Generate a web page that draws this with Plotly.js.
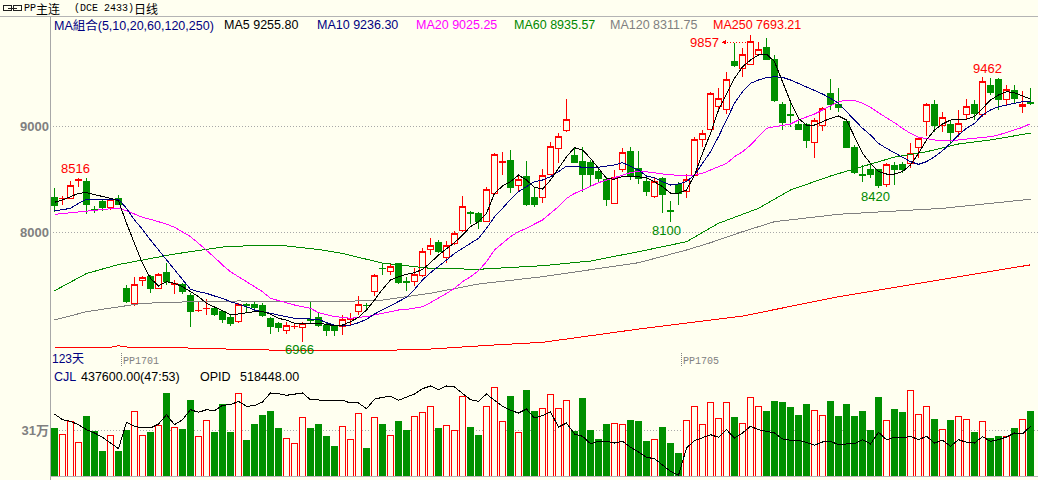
<!DOCTYPE html>
<html><head><meta charset="utf-8">
<script src="https://cdn.plot.ly/plotly-3.0.1.min.js"></script>
<style>html,body{margin:0;padding:0;background:#fffff0;}#chart{width:1038px;height:480px;}
#chart svg path{shape-rendering:crispEdges;}</style>
</head><body><div id="chart"></div>
<script>
// ---------------- DATA ----------------
const openP = [8330,8318,8320,8485,8478,8215,8286,8232,8320,7471,
7330,7544,7581,7471,7625,7505,7506,7408,7258,7278,
7283,7251,7198,7157,7318,7323,7305,7188,7141,7072,
7108,7103,7175,7198,7125,7110,7116,7180,7251,7314,
7440,7662,7628,7701,7535,7534,7597,7839,7905,7760,
7896,8015,8183,8179,8106,8367,8662,8673,8443,8525,
8327,8330,8547,8792,8956,8729,8666,8657,8572,8500,
8273,8594,8760,8603,8478,8342,8509,8203,8452,8383,
8540,8877,8971,9191,9154,9616,9547,9585,9679,9742,
9632,9210,9108,9018,9018,8845,9003,9305,9201,9044,
8798,8543,8588,8588,8455,8628,8635,8650,8798,9044,
9201,9003,9021,8949,9107,9207,9107,9389,9443,9254,
9342,9191,9220];
const highP = [8415,8342,8484,8516,8510,8248,8305,8324,8352,7503,
7581,7588,7597,7613,7707,7550,7525,7430,7355,7368,
7305,7267,7229,7336,7330,7355,7330,7204,7157,7157,
7147,7157,7345,7251,7147,7125,7220,7235,7399,7336,
7607,7707,7707,7707,7581,7666,7849,7943,7927,7918,
8015,8342,8201,8194,8430,8745,8760,8776,8540,8673,
8430,8594,8855,8934,9258,8808,8808,8682,8613,8518,
8588,8792,8808,8770,8525,8525,8525,8295,8478,8547,
8902,8965,9327,9358,9515,9789,9735,9857,9798,9830,
9673,9232,9232,9059,9034,9075,9179,9443,9358,9066,
8823,8635,8650,8594,8650,8666,8666,8845,8902,9217,
9248,9138,9059,9154,9257,9248,9462,9455,9452,9389,
9389,9336,9364];
const lowP = [8195,8257,8311,8430,8173,8185,8201,8210,8257,7330,
7308,7496,7424,7462,7503,7418,7418,7103,7252,7220,
7213,7147,7119,7147,7251,7251,7204,7037,7062,7044,
7084,6966,7145,7110,7025,7025,7031,7125,7220,7267,
7399,7597,7597,7512,7449,7493,7581,7786,7801,7713,
7880,8000,8078,8028,8100,8352,8540,8367,8383,8248,
8242,8273,8540,8657,8949,8650,8383,8437,8462,8248,
8267,8572,8493,8456,8342,8327,8185,8100,8257,8320,
8531,8808,8965,9160,9113,9562,9462,9578,9663,9625,
9232,8965,8996,8965,8798,8698,8955,9154,9138,8792,
8550,8477,8509,8420,8430,8446,8556,8603,8698,8908,
8949,8949,8839,8902,9059,9059,9091,9295,9154,9191,
9223,9128,9201];
const closeP = [8257,8322,8446,8495,8264,8205,8232,8311,8267,7345,
7512,7572,7468,7603,7537,7515,7437,7251,7262,7283,
7226,7179,7138,7317,7313,7289,7213,7110,7103,7125,
7110,7141,7165,7125,7078,7072,7179,7185,7323,7310,
7588,7658,7676,7528,7530,7603,7817,7874,7817,7874,
7990,8248,8177,8106,8408,8735,8667,8424,8500,8267,
8267,8534,8814,8908,9066,8657,8550,8550,8503,8305,
8518,8751,8525,8503,8389,8484,8352,8198,8367,8500,
8877,8933,9311,9264,9443,9572,9679,9798,9720,9632,
9242,9034,9100,8974,8864,9059,9169,9201,9179,8798,
8562,8540,8550,8437,8644,8594,8588,8745,8886,9201,
9012,9084,8940,9028,9191,9122,9421,9317,9254,9349,
9264,9210,9215];
// volume (CJL), in 万
const volume = [32.3,28.1,36.8,22.7,39.8,30.3,16.8,27.4,16.8,30.8,
43.6,27.4,29.6,34.1,55.3,32.8,31.5,51.2,26.8,37.5,
29.6,48.1,29.0,55.3,23.6,34.4,41.1,43.8,31.7,25.4,
22.0,39.5,32.3,34.4,26.3,20.2,33.5,24.7,41.8,18.2,
39.1,35.0,27.0,36.6,30.5,40.4,43.1,47.0,31.7,34.2,
30.8,53.9,33.0,27.0,47.0,59.8,36.4,53.9,29.0,57.3,
43.3,45.2,54.6,45.8,51.0,29.9,51.9,31.0,24.9,34.4,
35.7,34.4,37.3,36.6,23.1,24.3,33.0,22.2,15.5,37.1,
47.0,35.0,49.2,38.9,49.2,39.1,35.5,53.0,47.0,43.8,
50.5,49.2,46.5,41.1,48.5,44.3,40.9,49.9,40.4,48.5,
40.4,43.8,31.0,52.6,37.5,44.5,43.1,57.8,41.6,47.0,
38.4,31.5,37.1,40.2,38.2,29.0,36.4,25.6,26.3,26.3,
31.7,38.4,43.76];
// open interest (OPID), in 万
const opid = [56.15,54.15,53.59,52.40,50.65,49.50,47.99,45.99,44.00,53.24,
51.84,51.25,51.25,52.65,55.90,52.40,54.15,57.65,56.74,57.65,
57.30,59.19,59.40,60.59,58.84,59.05,60.35,63.50,63.25,62.69,
63.15,63.50,61.15,60.94,60.94,60.94,60.94,60.00,60.00,58.00,
61.33,61.99,62.34,60.94,62.10,63.15,65.00,65.95,64.65,65.95,
65.60,63.50,61.15,60.59,63.15,60.94,58.84,57.44,56.50,57.90,
54.75,55.55,56.85,51.60,53.00,49.15,48.34,45.75,46.59,46.59,
45.99,46.59,44.49,42.85,40.99,40.50,38.19,36.09,34.69,44.25,
46.80,47.99,48.90,47.99,50.65,47.75,49.50,51.84,50.65,50.09,
49.50,47.40,46.94,46.94,46.24,45.19,46.35,46.59,45.40,45.65,
45.65,47.15,45.65,49.74,47.15,47.99,47.75,48.34,47.15,48.34,
45.99,46.94,44.84,47.15,46.24,45.99,48.20,46.59,47.15,48.10,
49.50,49.15,51.84];
const ma5 = [8283,8305,8336,8368,8374,8358,8336,8320,8298,8085,
7896,7707,7566,7493,7534,7518,7487,7440,7393,7330,
7298,7261,7220,7229,7242,7251,7251,7229,7188,7172,
7141,7135,7141,7141,7132,7119,7125,7157,7198,7267,
7361,7462,7550,7581,7603,7619,7650,7713,7786,7848,
7902,7974,8053,8100,8179,8367,8437,8478,8540,8493,
8424,8408,8493,8603,8713,8798,8776,8698,8603,8509,
8500,8525,8531,8525,8515,8478,8430,8370,8370,8399,
8540,8745,8933,9154,9311,9452,9562,9625,9673,9682,
9610,9421,9232,9075,9012,9012,9044,9075,9097,9059,
8902,8745,8650,8572,8550,8550,8572,8635,8745,8871,
8965,9021,9059,9066,9066,9091,9169,9248,9295,9327,
9317,9286,9256];
const ma10 = [8201,8210,8226,8273,8311,8314,8317,8314,8311,8226,
8116,8028,7927,7833,7739,7644,7550,7462,7440,7424,
7399,7377,7345,7323,7298,7267,7251,7235,7220,7204,
7188,7185,7185,7179,7147,7125,7116,7125,7147,7179,
7229,7267,7305,7345,7386,7462,7550,7619,7676,7738,
7801,7848,7896,7943,8037,8147,8226,8311,8383,8430,
8478,8493,8525,8572,8625,8625,8613,8613,8613,8625,
8635,8657,8625,8588,8531,8515,8478,8446,8456,8478,
8540,8650,8760,8902,9059,9217,9327,9405,9437,9459,
9468,9462,9437,9405,9374,9342,9305,9264,9217,9138,
9059,8981,8918,8839,8792,8751,8713,8666,8641,8666,
8713,8770,8839,8918,8981,9028,9106,9154,9185,9201,
9217,9232,9236];
const ma20 = [8169,8177,8185,8195,8204,8210,8217,8222,8226,8204,
8173,8141,8122,8100,8078,8047,8006,7959,7896,7833,
7764,7691,7628,7581,7534,7487,7440,7377,7355,7336,
7314,7298,7283,7242,7220,7204,7198,7188,7198,7204,
7220,7235,7251,7267,7273,7282,7298,7336,7377,7424,
7471,7534,7581,7638,7723,7833,7896,7959,8006,8037,
8078,8116,8179,8242,8320,8367,8399,8437,8468,8493,
8518,8540,8562,8578,8572,8562,8550,8540,8537,8540,
8540,8556,8588,8619,8650,8713,8760,8823,8902,8981,
8996,9012,9021,9059,9084,9116,9154,9191,9232,9248,
9242,9217,9179,9128,9084,9034,8981,8933,8896,8880,
8871,8864,8864,8871,8880,8886,8893,8902,8918,8940,
8965,8990,9025];
// long MAs read at sampled candle indices
const ma60Idx = [0,4,8,11,15,21,26,29,33,36,41,47,53,61,67,73,79,83,88,92,97,101,105,109,113,117,122];
const ma60 = [7449,7611,7696,7739,7795,7861,7880,7871,7838,7800,7710,7660,7651,7685,7729,7817,7911,8085,8226,8399,8531,8621,8710,8760,8833,8871,8936];
const ma120Idx = [0,4,11,17,23,29,35,41,47,53,61,73,79,82,86,90,98,111,122];
const ma120 = [7173,7251,7330,7345,7352,7352,7345,7361,7425,7512,7581,7713,7833,7902,8006,8100,8170,8226,8312];
const ma250Idx = [0,7,8,9,17,26,38,46,55,61,73,86,98,111,122];
const ma250 = [6915,6915,6930,6918,6908,6890,6883,6894,6937,6962,7087,7210,7392,7557,7693];

const priceTicks = [8000, 9000];
const volTicks = [31];
const volTickText = ['31万'];
const titleParts = ['PP', '主连', '(DCE 2433)', '日线'];
const legendLabels = ['MA組合(5,10,20,60,120,250)', 'MA5 9255.80', 'MA10 9236.30', 'MA20 9025.25', 'MA60 8935.57', 'MA120 8311.75', 'MA250 7693.21'];
const volHeader = ['CJL', '437600.00(47:53)', 'OPID', '518448.00'];
const contractMarks = [{after: 8, label: 'PP1701'}, {after: 78, label: 'PP1705'}];
const extremeMarks = [{i: 3, kind: 'high'}, {i: 31, kind: 'low'}, {i: 77, kind: 'low'}, {i: 87, kind: 'high'}, {i: 103, kind: 'low'}, {i: 116, kind: 'high'}];
const daysLabel = '123天';

// ---------------- STYLE / LAYOUT ----------------
const W = 1038, H = 480, ML = 50;
const BG = '#fffff0', RED = '#ff0000', GREEN = '#009000', DGREEN = '#008800', NAVY = '#000080',
      MAG = '#ff00ff', GRAY = '#808080', BLACK = '#000000';
const SANS = '"Liberation Sans", Arial, "Noto Sans CJK SC", sans-serif';
const MONO = '"Liberation Mono", "Noto Sans CJK SC", monospace';
const CJK = '"Noto Sans CJK SC", sans-serif';
const xp = px => (px - ML) / (W - ML);
const yp = py => 1 - py / H;
const MAIN_TOP = 17, MAIN_BOT = 368, VOL_TOP = 384, VOL_BOT = 476;
// price scale: 9000 at 126.3px, 8000 at 232.3px
const pxPerPt = 0.106;
const priceAt = py => 9000 + (126.3 - py) / pxPerPt;
const n = closeP.length;
const idx = Array.from({length: n}, (_, i) => i);
const xRange = [-0.5625, n - 1 + 0.9375];
const volMax = 31 * (VOL_BOT - VOL_TOP) / (VOL_BOT - 430);
const opRange = [51.84 + (426.3 - VOL_BOT) * 0.35, 51.84 + (426.3 - VOL_TOP) * 0.35];

const up = idx.map(i => closeP[i] >= openP[i]);

const traces = [
  {type: 'candlestick', x: idx, open: openP, high: highP, low: lowP, close: closeP,
   xaxis: 'x', yaxis: 'y', whiskerwidth: 0, hoverinfo: 'skip',
   increasing: {line: {color: RED, width: 1}, fillcolor: BG},
   decreasing: {line: {color: GREEN, width: 1}, fillcolor: GREEN}},
  {type: 'scatter', mode: 'lines', x: ma250Idx, y: ma250, line: {color: RED, width: 1}, xaxis: 'x', yaxis: 'y', hoverinfo: 'skip'},
  {type: 'scatter', mode: 'lines', x: ma120Idx, y: ma120, line: {color: GRAY, width: 1}, xaxis: 'x', yaxis: 'y', hoverinfo: 'skip'},
  {type: 'scatter', mode: 'lines', x: ma60Idx, y: ma60, line: {color: DGREEN, width: 1}, xaxis: 'x', yaxis: 'y', hoverinfo: 'skip'},
  {type: 'scatter', mode: 'lines', x: idx, y: ma20, line: {color: MAG, width: 1}, xaxis: 'x', yaxis: 'y', hoverinfo: 'skip'},
  {type: 'scatter', mode: 'lines', x: idx, y: ma10, line: {color: NAVY, width: 1}, xaxis: 'x', yaxis: 'y', hoverinfo: 'skip'},
  {type: 'scatter', mode: 'lines', x: idx, y: ma5, line: {color: BLACK, width: 1}, xaxis: 'x', yaxis: 'y', hoverinfo: 'skip'},
  {type: 'bar', x: idx, y: volume, xaxis: 'x2', yaxis: 'y2', hoverinfo: 'skip',
   marker: {color: up.map(u => u ? BG : GREEN), line: {color: up.map(u => u ? RED : GREEN), width: 1}}},
  {type: 'scatter', mode: 'lines', x: idx, y: opid, xaxis: 'x2', yaxis: 'y3', line: {color: BLACK, width: 1}, hoverinfo: 'skip'}
];

const ann = [];
const txt = (px, py, text, color, family, size, extra) => ann.push(Object.assign({
  xref: 'paper', yref: 'paper', x: xp(px), y: yp(py), xanchor: 'left', yanchor: 'middle',
  text, showarrow: false, borderpad: 0, borderwidth: 0, font: {family, size, color}}, extra || {}));

// title row
txt(24, 8, titleParts[0], BLACK, MONO, 10);
txt(36, 8, titleParts[1], BLACK, CJK, 12);
txt(74, 8, titleParts[2], BLACK, MONO, 10);
txt(134, 8, titleParts[3], BLACK, CJK, 12);
// MA legend
const legX = [54, 224, 317, 416, 514, 610, 713];
const legC = [NAVY, BLACK, NAVY, MAG, DGREEN, GRAY, RED];
legendLabels.forEach((t, k) => txt(legX[k], 25, t, legC[k], SANS, 12.5));
// volume header
const vhX = [54, 81, 200, 240], vhC = [NAVY, BLACK, BLACK, BLACK];
volHeader.forEach((t, k) => txt(vhX[k], 377, t, vhC[k], SANS, 12.5));
txt(52, 358.5, daysLabel, NAVY, SANS, 12);

const shapes = [
  {type: 'line', xref: 'paper', yref: 'paper', x0: xp(0), x1: xp(W), y0: yp(16.5), y1: yp(16.5), line: {color: '#b4b4b4', width: 1}},
  {type: 'line', xref: 'paper', yref: 'paper', x0: xp(50.5), x1: xp(50.5), y0: yp(17), y1: yp(H), line: {color: '#a8a8a8', width: 1}},
  {type: 'line', xref: 'paper', yref: 'paper', x0: 0, x1: 1, y0: yp(476.5), y1: yp(476.5), line: {color: '#b4b4b4', width: 1}},
  // link icon
  {type: 'rect', xref: 'paper', yref: 'paper', x0: xp(3.5), x1: xp(11.5), y0: yp(5.5), y1: yp(10.5), line: {color: '#202020', width: 1}},
  {type: 'rect', xref: 'paper', yref: 'paper', x0: xp(13.5), x1: xp(21.5), y0: yp(5.5), y1: yp(10.5), line: {color: '#202020', width: 1}},
  {type: 'line', xref: 'paper', yref: 'paper', x0: xp(8), x1: xp(17), y0: yp(8), y1: yp(8), line: {color: '#202020', width: 1}}
];
// contract switch markers
contractMarks.forEach(m => {
  const xm = m.after + 0.4;
  shapes.push({type: 'line', xref: 'x', yref: 'paper', x0: xm, x1: xm, y0: yp(353), y1: yp(367), line: {color: GRAY, width: 1, dash: '1px,1px'}});
  ann.push({xref: 'x', yref: 'paper', x: xm, y: yp(361.5), xanchor: 'left', yanchor: 'middle', xshift: 1.5, text: m.label,
            showarrow: false, borderpad: 0, borderwidth: 0, font: {family: MONO, size: 10, color: GRAY}});
});
// extreme labels
const extShift = {3: [-3.5, 9.6], 31: [-3.5, -8], 77: [-4, -8.6], 103: [-3, -9], 116: [4.5, 9.3]};
extremeMarks.forEach(m => {
  const v = m.kind === 'high' ? highP[m.i] : lowP[m.i];
  const col = m.kind === 'high' ? RED : DGREEN;
  if (extShift[m.i]) {
    ann.push({xref: 'x', yref: 'y', x: m.i, y: v, xanchor: 'center', yanchor: 'middle', xshift: extShift[m.i][0], yshift: extShift[m.i][1],
              text: String(v), showarrow: false, borderpad: 0, borderwidth: 0, font: {family: SANS, size: 13, color: col}});
  } else {
    ann.push({xref: 'x', yref: 'y', x: m.i, y: v, xanchor: 'right', yanchor: 'middle', xshift: -31.5, yshift: -7,
              text: String(v), showarrow: false, borderpad: 0, borderwidth: 0, font: {family: SANS, size: 13, color: col}});
    ann.push({xref: 'x', yref: 'y', x: m.i, y: v, xshift: -29, yshift: -7, text: '', showarrow: true, ax: 6, ay: 0,
              arrowhead: 2, arrowsize: 1, arrowwidth: 1, arrowcolor: col});
    const yLead = v - 7 / pxPerPt;
    shapes.push({type: 'line', xref: 'x', yref: 'y', x0: m.i - 24 / 8, x1: m.i - 3 / 8, y0: yLead, y1: yLead,
                 line: {color: col, width: 1, dash: '1px,2px'}});
  }
});

const tickFont = {family: SANS, size: 13, color: GRAY, weight: 'bold'};
const layout = {
  width: W, height: H, margin: {l: ML, r: 0, t: 0, b: 0, pad: 0},
  paper_bgcolor: BG, plot_bgcolor: BG, showlegend: false, hovermode: false, dragmode: false,
  boxgap: 0.25, boxgroupgap: 0, bargap: 0.25,
  xaxis: {domain: [0, 1], range: xRange, anchor: 'y', visible: false, fixedrange: true, rangeslider: {visible: false}},
  xaxis2: {domain: [0, 1], range: xRange, anchor: 'y2', visible: false, fixedrange: true},
  yaxis: {domain: [yp(MAIN_BOT), yp(MAIN_TOP)], range: [priceAt(MAIN_BOT), priceAt(MAIN_TOP)], anchor: 'x',
          tickmode: 'array', tickvals: priceTicks, ticktext: priceTicks.map(String), ticks: '',
          showgrid: true, gridcolor: '#a8a8a8', griddash: '1px,2px', gridwidth: 1, zeroline: false, showline: false,
          tickfont: tickFont, fixedrange: true, automargin: false},
  yaxis2: {domain: [yp(VOL_BOT), yp(VOL_TOP)], range: [0, volMax], anchor: 'x2',
           tickmode: 'array', tickvals: volTicks, ticktext: volTickText, ticks: '',
           showgrid: true, gridcolor: '#a8a8a8', griddash: '1px,2px', gridwidth: 1, zeroline: false, showline: false,
           tickfont: tickFont, fixedrange: true, automargin: false},
  yaxis3: {overlaying: 'y2', anchor: 'x2', range: opRange, visible: false, showgrid: false, fixedrange: true},
  annotations: ann, shapes: shapes
};
Plotly.newPlot('chart', traces, layout, {displayModeBar: false, responsive: false});
</script>
</body></html>
